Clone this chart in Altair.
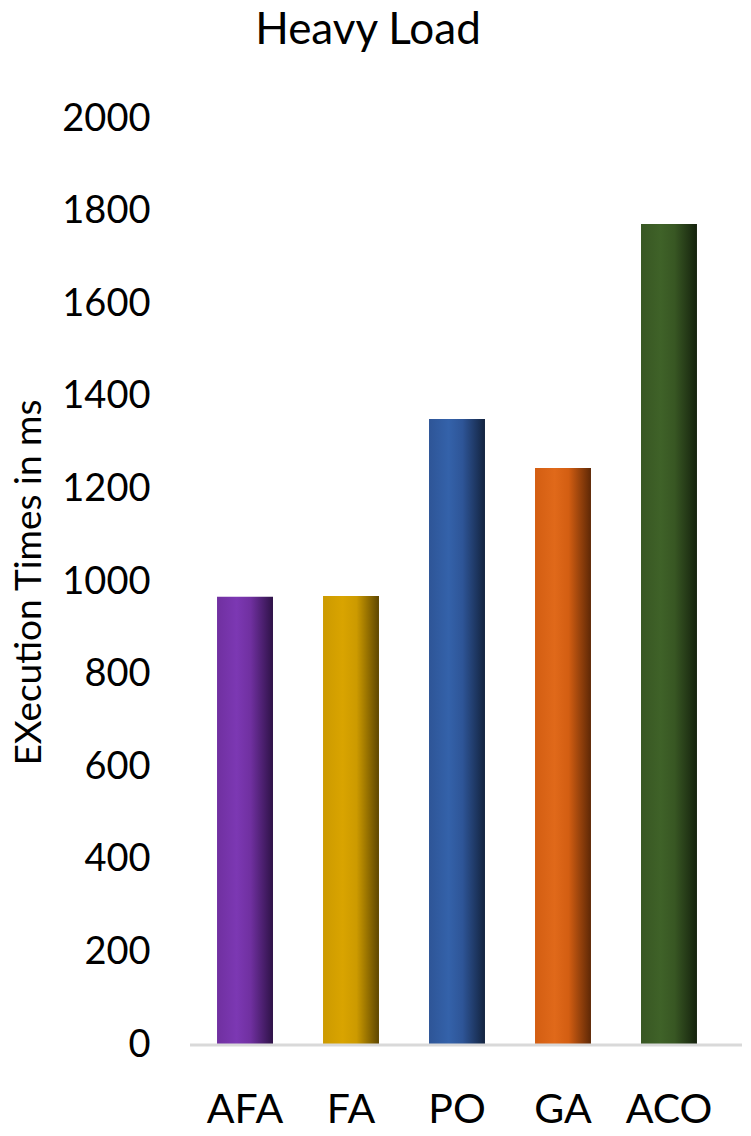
import altair as alt
import pandas as pd

categories = ["AFA", "FA", "PO", "GA", "ACO"]
values = [968, 970, 1352, 1246, 1773]
y_ticks = [0, 200, 400, 600, 800, 1000, 1200, 1400, 1600, 1800, 2000]
base_colors = ["#7030A0", "#CC9A00", "#2E5597", "#D35E12", "#385723"]
light_colors = ["#7C38B3", "#D9A400", "#3462AA", "#E0691A", "#3F6228"]
dark_colors = ["#2E1247", "#5E4600", "#13233F", "#5E2806", "#15220D"]

df = pd.DataFrame({"cat": categories, "val": values})
FONT = "Lato"

x_enc = alt.X(
    "cat:N", sort=categories,
    scale=alt.Scale(paddingInner=0.472, paddingOuter=0.255),
    axis=alt.Axis(title=None, labelAngle=0, ticks=False, domain=False,
                  labelPadding=77, labelBaseline="alphabetic",
                  labelFontSize=41, labelFont=FONT, labelColor="black"),
)
y_enc = alt.Y(
    "val:Q",
    scale=alt.Scale(domain=[0, 2000], nice=False),
    axis=alt.Axis(values=y_ticks, format="d", title="EXecution Times in ms",
                  grid=False, domain=False, ticks=False, labelPadding=40,
                  labelFontSize=38, labelFont=FONT, labelColor="black",
                  titleFontSize=37, titleFont=FONT, titleFontWeight="normal",
                  titleColor="black", titleX=-161, titleY=463,
                  titleBaseline="middle"),
)

layers = []
for c, b, l, d in zip(categories, base_colors, light_colors, dark_colors):
    grad = alt.LinearGradient(
        gradient="linear", x1=0, x2=1, y1=0, y2=0,
        stops=[
            alt.GradientStop(color=b, offset=0),
            alt.GradientStop(color=l, offset=0.35),
            alt.GradientStop(color=b, offset=0.6),
            alt.GradientStop(color=d, offset=1),
        ],
    )
    layers.append(
        alt.Chart(df).transform_filter(alt.datum.cat == c)
        .mark_bar(color=grad).encode(x=x_enc, y=y_enc)
    )

baseline = alt.Chart(pd.DataFrame({"z": [0]})).mark_rule(
    color="#D9D9D9", strokeWidth=3
).encode(x=alt.value(0), x2=alt.value(553), y=alt.datum(0))

chart = alt.layer(*layers, baseline).properties(
    width=534, height=926,
    autosize=alt.AutoSizeParams(type="none"),
    padding={"left": 182, "top": 111, "right": 18, "bottom": 88},
    title=alt.Title("Heavy Load", fontSize=44, font=FONT, fontWeight="normal",
                    offset=12, baseline="alphabetic", dx=-89, anchor="middle",
                    color="black"),
).configure_view(stroke=None)

chart.save("out.html", embed_options={"renderer": "svg", "actions": False})
